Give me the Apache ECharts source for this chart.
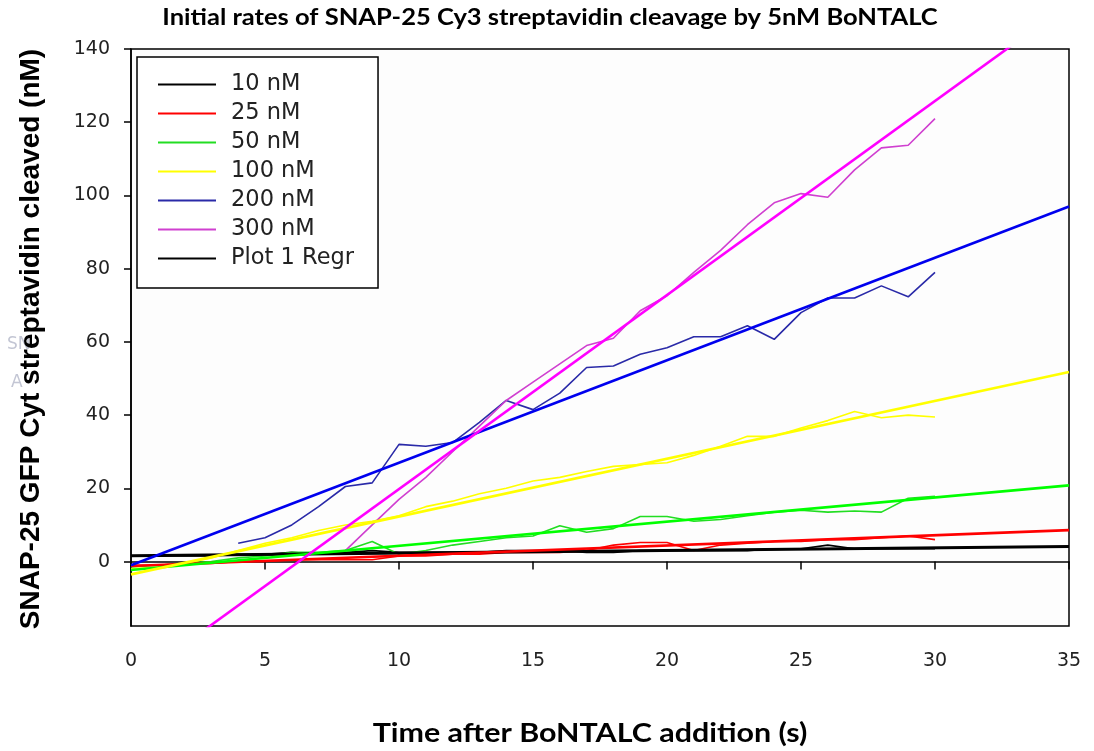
<!DOCTYPE html>
<html>
<head>
<meta charset="utf-8">
<script src="https://cdn.jsdelivr.net/npm/echarts@6/dist/echarts.min.js"></script>
<style>
  html, body { margin: 0; padding: 0; background: #ffffff; }
  #chart { width: 1094px; height: 751px; }
</style>
</head>
<body>
<div id="chart"></div>
<script>
// Sampling times (s)
const seconds = [0, 1, 2, 3, 4, 5, 6, 7, 8, 9, 10, 11, 12, 13, 14, 15,
                 16, 17, 18, 19, 20, 21, 22, 23, 24, 25, 26, 27, 28, 29, 30];

// Cleaved substrate (nM) for each SNAP-25 concentration
const conc10  = [1.5, 1.5, 1.5, 1.5, 2, 2, 2.5, 2, 2.5, 3, 2.5, 2.5, 2.5, 2.5, 3, 3,
                 3, 2.5, 2.5, 3, 3, 3, 3, 3, 3.5, 3.5, 4.5, 3.5, 3.5, 3.5, 3.5];
const conc25  = [-1, -1, -0.5, -0.5, 0, 0, 0.5, 0.5, 0.5, 0.5, 1.5, 1.5, 2, 2, 2.5, 2.5,
                 2.5, 3, 4.5, 5.2, 5.2, 3, 4.5, 5, 5.5, 5.5, 6, 6, 6.5, 7, 6];
const conc50  = [-1.5, -1, -0.5, 0, 1, 1.5, 2.5, 2.5, 3, 5.5, 2, 3, 4.5, 5.5, 6.5, 7,
                 9.8, 8, 9, 12.3, 12.3, 11, 11.5, 12.5, 13.5, 14, 13.5, 13.8, 13.5, 17.3, 17.8];
const conc100 = [-2, -1.5, -0.5, 1, 3, 5, 6.5, 8.5, 10, 11, 12.5, 15, 16.5, 18.5, 20, 22,
                 23, 24.6, 26, 26.5, 27, 29, 31.5, 34.2, 34.2, 36.5, 38.5, 41, 39.3, 40, 39.5];
const conc200 = [null, null, null, null, 5, 6.5, 10, 15, 20.5, 21.5, 32, 31.5, 32.5, 38, 44, 41.5,
                 46, 53, 53.4, 56.6, 58.4, 61.4, 61.4, 64.4, 60.7, 68, 72, 72, 75.3, 72.3, 79];
const conc300 = [null, null, null, null, null, null, null, null, 3, 10, 17, 23, 30, 37, 44, 49,
                 54, 59, 61, 68.5, 72.6, 79, 85, 92, 98, 100.5, 99.5, 107, 113, 113.7, 121];

// Linear regression lines: value at t = 0 s and at t = 35 s
const fitTimes = [0, 35];
const fit10  = [1.6, 4.1];
const fit25  = [-1.2, 8.6];
const fit50  = [-2.3, 20.8];
const fit100 = [-3.5, 51.8];
const fit200 = [-1, 97];
const fit300 = [-33.2, 152.3];

// Axis ticks
const xTicks = [0, 5, 10, 15, 20, 25, 30, 35];
const yTicks = [0, 20, 40, 60, 80, 100, 120, 140];

const seriesNames = ['10 nM', '25 nM', '50 nM', '100 nM', '200 nM', '300 nM'];
const rawColors = ['#000000', '#ff0000', '#22dd22', '#ffff00', '#2a2aa8', '#d040d0'];
const fitColors = ['#000000', '#ff0000', '#00ff00', '#ffff00', '#0000ee', '#ff00ff'];
const rawSets = [conc10, conc25, conc50, conc100, conc200, conc300];
const fitSets = [fit10, fit25, fit50, fit100, fit200, fit300];

function pairs(xs, ys) {
  const out = [];
  xs.forEach((x, i) => { if (ys[i] !== null) out.push([x, ys[i]]); });
  return out;
}

const series = [];
rawSets.forEach((vals, i) => {
  series.push({
    name: seriesNames[i],
    type: 'line',
    data: pairs(seconds, vals),
    symbol: 'none',
    lineStyle: { color: rawColors[i], width: 1.6 },
    itemStyle: { color: rawColors[i] },
    z: 2
  });
});
fitSets.forEach((vals, i) => {
  series.push({
    name: 'Plot ' + (i + 1) + ' Regr',
    type: 'line',
    data: pairs(fitTimes, vals),
    symbol: 'none',
    clip: true,
    lineStyle: { color: fitColors[i], width: i === 0 ? 3 : 2.6 },
    itemStyle: { color: fitColors[i] },
    z: 3
  });
});

const chart = echarts.init(document.getElementById('chart'), null, { renderer: 'canvas' });
chart.setOption({
  animation: false,
  backgroundColor: '#ffffff',
  grid: {
    left: 131, right: 25, top: 49, bottom: 125,
    show: true, borderColor: '#000000', borderWidth: 1.5, backgroundColor: '#fdfdfd'
  },
  legend: {
    data: ['10 nM', '25 nM', '50 nM', '100 nM', '200 nM', '300 nM', 'Plot 1 Regr'],
    orient: 'vertical',
    left: 137, top: 57,
    padding: [16, 24, 18, 20],
    itemGap: 6,
    itemWidth: 58,
    itemHeight: 14,
    itemStyle: { opacity: 0 },
    backgroundColor: '#ffffff',
    borderColor: '#000000',
    borderWidth: 1.5,
    textStyle: {
      fontFamily: 'DejaVu Sans', fontSize: 22.5, color: '#222222',
      lineHeight: 22, padding: [0, 0, 0, 10]
    }
  },
  xAxis: {
    type: 'value', min: 0, max: 35, interval: 5,
    axisLine: { lineStyle: { color: '#000000', width: 1.5 } },
    axisTick: { show: true, inside: false, length: 8, lineStyle: { color: '#000000', width: 1.5 } },
    axisLabel: { fontFamily: 'DejaVu Sans', fontSize: 19, color: '#222222', margin: 26,
                 customValues: xTicks },
    splitLine: { show: false }
  },
  yAxis: {
    type: 'value', min: -17.6, max: 140,
    axisLine: { show: true, lineStyle: { color: '#000000', width: 1.5 } },
    axisTick: { show: true, inside: false, length: 7, lineStyle: { color: '#000000', width: 1.5 },
                customValues: yTicks },
    axisLabel: { fontFamily: 'DejaVu Sans', fontSize: 19, color: '#222222', margin: 21,
                 customValues: yTicks },
    splitLine: { show: false }
  },
  graphic: [
    {
      type: 'text',
      x: 550, y: 18,
      style: {
        text: 'Initial rates of SNAP-25 Cy3 streptavidin cleavage by 5nM BoNTALC',
        fontFamily: 'Lato', fontWeight: 'bold', fontSize: 22, fill: '#000000',
        align: 'center', verticalAlign: 'middle'
      },
      scaleX: 1.16
    },
    {
      type: 'text',
      x: 590, y: 734,
      style: {
        text: 'Time after BoNTALC addition (s)',
        fontFamily: 'Lato', fontWeight: 'bold', fontSize: 26, fill: '#000000',
        align: 'center', verticalAlign: 'middle'
      },
      scaleX: 1.17
    },
    {
      type: 'text',
      x: 7, y: 345,
      style: { text: 'SN', fontFamily: 'DejaVu Sans', fontSize: 17, fill: '#c3c6d4',
               align: 'left', verticalAlign: 'middle' }
    },
    {
      type: 'text',
      x: 11, y: 383,
      style: { text: 'A', fontFamily: 'DejaVu Sans', fontSize: 17, fill: '#c3c6d4',
               align: 'left', verticalAlign: 'middle' }
    },
    {
      type: 'text',
      x: 31, y: 339,
      rotation: Math.PI / 2,
      style: {
        text: 'SNAP-25 GFP Cyt streptavidin cleaved (nM)',
        fontFamily: 'Liberation Sans', fontWeight: 'bold', fontSize: 28, fill: '#000000',
        align: 'center', verticalAlign: 'middle'
      }
    }
  ],
  series: series
});
</script>
</body>
</html>
